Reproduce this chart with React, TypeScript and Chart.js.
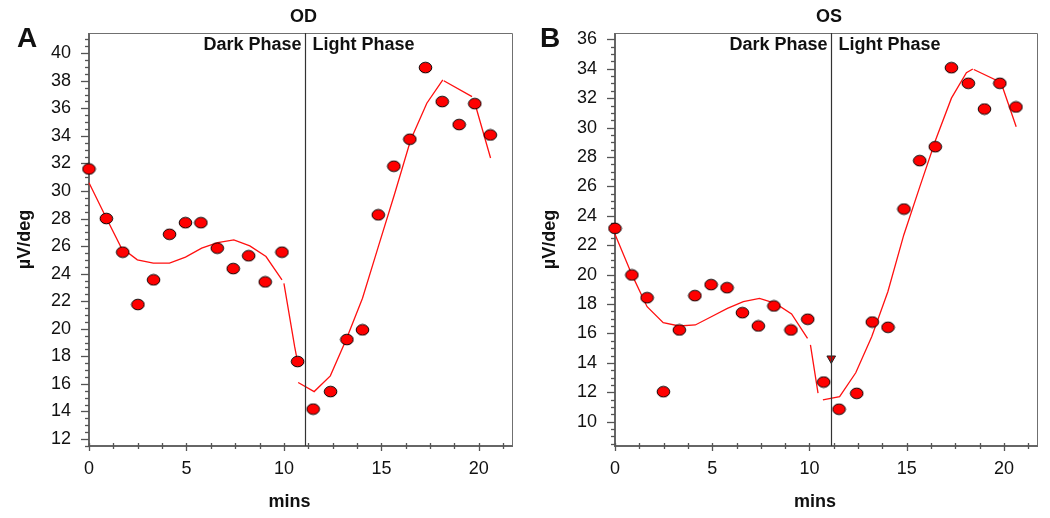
import React, { useEffect, useRef } from 'react';
import { Chart, registerables } from 'chart.js';

Chart.register(...registerables);

const FONT = '"Liberation Sans", Arial, Helvetica, sans-serif';

// ---------- Panel A (OD) ----------
const odTimes = [0, 0.89, 1.73, 2.51, 3.31, 4.13, 4.95, 5.74, 6.58, 7.4, 8.19, 9.04, 9.9, 10.7, 11.5, 12.39, 13.23, 14.03, 14.84, 15.64, 16.46, 17.26, 18.12, 18.99, 19.79, 20.59];
const odValues = [31.6, 28.0, 25.56, 21.76, 23.55, 26.86, 27.7, 27.7, 25.85, 24.37, 25.3, 23.4, 25.56, 17.62, 14.17, 15.44, 19.22, 19.92, 28.27, 31.8, 33.76, 38.96, 36.49, 34.82, 36.34, 34.07];
const odFitTimes = [0, 0.83, 1.65, 2.48, 3.3, 4.13, 4.95, 5.78, 6.6, 7.43, 8.25, 9.08, 9.9, 9.95, 10.0, 10.55, 10.7, 10.71, 10.73, 11.55, 12.38, 13.2, 14.03, 14.85, 15.68, 16.5, 17.33, 18.15, 18.17, 18.2, 19.65, 19.75, 19.85, 20.6];
const odFitValues = [30.6, 28.2, 25.9, 25.0, 24.76, 24.76, 25.2, 25.85, 26.26, 26.45, 26.02, 25.24, 23.55, null, 23.3, 18.7, 17.6, null, 16.1, 15.44, 16.58, 19.24, 22.22, 26.0, 29.8, 33.7, 36.37, 38.06, null, 38.0, 36.85, null, 36.1, 32.4];
const odYTicks = [12, 14, 16, 18, 20, 22, 24, 26, 28, 30, 32, 34, 36, 38, 40];

// ---------- Panel B (OS) ----------
const osTimes = [0, 0.87, 1.65, 2.49, 3.31, 4.11, 4.94, 5.76, 6.55, 7.37, 8.17, 9.05, 9.91, 10.73, 11.52, 12.43, 13.23, 14.04, 14.86, 15.67, 16.47, 17.3, 18.17, 19.0, 19.79, 20.62];
const osValues = [23.15, 19.98, 18.43, 12.04, 16.24, 18.57, 19.32, 19.11, 17.41, 16.51, 17.87, 16.24, 16.97, 12.7, 10.85, 11.93, 16.78, 16.42, 24.46, 27.75, 28.7, 34.07, 33.01, 31.26, 33.01, 31.4];
const osFitTimes = [0, 0.87, 1.65, 2.48, 3.3, 4.13, 4.95, 5.78, 6.6, 7.43, 8.25, 9.08, 9.9, 9.97, 10.05, 10.44, 10.55, 10.69, 11.55, 12.38, 13.2, 14.03, 14.85, 15.68, 16.5, 17.3, 18.07, 18.4, 18.42, 18.45, 19.87, 19.95, 20.63];
const osFitValues = [22.74, 20.0, 17.82, 16.73, 16.51, 16.58, 17.14, 17.71, 18.16, 18.39, 18.05, 17.33, 15.67, null, 15.22, 11.94, null, 11.48, 11.7, 13.33, 15.78, 18.84, 22.7, 26.0, 29.2, 32.0, 33.73, 33.98, null, 33.95, 33.05, 32.67, 30.06];
const osMarkerTimes = [11.12];
const osMarkerValues = [14.3];
const osYTicks = [10, 12, 14, 16, 18, 20, 22, 24, 26, 28, 30, 32, 34, 36];

const xTicks = [0, 5, 10, 15, 20];
const phaseSwitch = 11.1;

const zip = (xs: number[], ys: (number | null)[]) => xs.map((x, i) => ({ x, y: ys[i] }));

function makeEllipse() {
  const c = document.createElement('canvas');
  c.width = 15;
  c.height = 13;
  const g = c.getContext('2d')!;
  g.beginPath();
  g.ellipse(7.5, 6.5, 6.3, 5.3, 0, 0, Math.PI * 2);
  g.fillStyle = '#ff0000';
  g.fill();
  g.lineWidth = 1;
  g.strokeStyle = '#000';
  g.stroke();
  return c;
}

const panelPlugin = {
  id: 'panel',
  beforeDatasetsDraw(chart: any, _args: any, opts: any) {
    const { ctx, chartArea: a, scales } = chart;
    const x = scales.x;
    const y = scales.y;
    ctx.save();
    // frame top/right
    ctx.strokeStyle = '#707070';
    ctx.lineWidth = 1;
    ctx.beginPath();
    ctx.moveTo(a.left, a.top + 0.5);
    ctx.lineTo(a.right + 0.5, a.top + 0.5);
    ctx.lineTo(a.right + 0.5, a.bottom);
    ctx.stroke();
    // left & bottom axes
    ctx.strokeStyle = '#666';
    ctx.lineWidth = 2;
    ctx.beginPath();
    ctx.moveTo(a.left, a.top);
    ctx.lineTo(a.left, a.bottom);
    ctx.lineTo(a.right + 1, a.bottom);
    ctx.stroke();
    // y ticks (major every 2, minor every 0.5)
    ctx.strokeStyle = '#555';
    ctx.lineWidth = 1.3;
    const yMin = y.min, yMax = y.max;
    for (let k = Math.ceil(yMin * 2); k <= Math.floor(yMax * 2); k++) {
      const v = k / 2;
      const py = Math.round(y.getPixelForValue(v)) + 0.5;
      const len = k % 4 === 0 ? 8 : 4;
      ctx.beginPath();
      ctx.moveTo(a.left - len, py);
      ctx.lineTo(a.left, py);
      ctx.stroke();
    }
    // x ticks (major every 5, minor every 1.25)
    for (let k = 0; k * 1.25 <= x.max; k++) {
      const v = k * 1.25;
      const px = Math.round(x.getPixelForValue(v)) + 0.5;
      const major = k % 4 === 0;
      ctx.beginPath();
      ctx.moveTo(px, a.bottom - 3);
      ctx.lineTo(px, a.bottom + (major ? 5 : 3));
      ctx.stroke();
    }
    ctx.restore();
  },
  afterDatasetsDraw(chart: any, _args: any, opts: any) {
    const { ctx, chartArea: a, scales } = chart;
    const x = scales.x;
    ctx.save();
    const vx = Math.round(x.getPixelForValue(opts.vline)) + 0.5;
    ctx.strokeStyle = '#333';
    ctx.lineWidth = 1.2;
    ctx.beginPath();
    ctx.moveTo(vx, a.top);
    ctx.lineTo(vx, a.bottom);
    ctx.stroke();

    ctx.fillStyle = '#111';
    ctx.textBaseline = 'alphabetic';
    ctx.font = `bold 18px ${FONT}`;
    ctx.textAlign = 'right';
    ctx.fillText(opts.darkLabel, vx - 4, 50);
    ctx.textAlign = 'left';
    ctx.fillText(opts.lightLabel, vx + 7, 50);

    const cx = (a.left + a.right) / 2;
    ctx.textAlign = 'center';
    ctx.fillText(opts.title, cx + 3, 22);
    ctx.fillText(opts.xTitle, cx - 11, 507);

    ctx.textAlign = 'left';
    ctx.font = `bold 28px ${FONT}`;
    ctx.fillText(opts.letter, opts.letterX, 47);
    ctx.restore();
  },
};

type PanelProps = {
  left: number;
  letter: string;
  letterX: number;
  title: string;
  times: number[];
  values: number[];
  fitTimes: number[];
  fitValues: (number | null)[];
  yTicks: number[];
  yMin: number;
  yMax: number;
  yWidth: number;
  markerTimes?: number[];
  markerValues?: number[];
};

function Panel(p: PanelProps) {
  const ref = useRef<HTMLCanvasElement>(null);
  useEffect(() => {
    const ellipse = makeEllipse();
    const datasets: any[] = [
      {
        data: zip(p.times, p.values),
        pointStyle: ellipse,
        pointRadius: 6,
        order: 0,
        clip: false,
      },
      {
        data: zip(p.fitTimes, p.fitValues),
        showLine: true,
        borderColor: '#ff1010',
        borderWidth: 1.3,
        pointRadius: 0,
        spanGaps: false,
        order: 1,
        clip: false,
      },
    ];
    if (p.markerTimes && p.markerValues) {
      datasets.push({
        data: zip(p.markerTimes, p.markerValues),
        pointStyle: 'triangle',
        pointRotation: 180,
        pointRadius: 5,
        backgroundColor: '#dd0000',
        borderColor: '#222',
        borderWidth: 1,
        order: 2,
        clip: false,
      });
    }
    const chart = new Chart(ref.current!, {
      type: 'scatter',
      data: { datasets },
      plugins: [panelPlugin as any],
      options: {
        responsive: false,
        animation: false,
        devicePixelRatio: 1,
        layout: { padding: { left: 0, right: 13, top: 33, bottom: 0 } },
        plugins: {
          legend: { display: false },
          tooltip: { enabled: false },
          panel: {
            vline: phaseSwitch,
            darkLabel: 'Dark Phase',
            lightLabel: 'Light Phase',
            title: p.title,
            xTitle: 'mins',
            letter: p.letter,
            letterX: p.letterX,
          },
        } as any,
        scales: {
          x: {
            type: 'linear',
            min: 0,
            max: 21.7,
            afterBuildTicks: (s: any) => {
              s.ticks = xTicks.map((v) => ({ value: v }));
            },
            afterFit: (s: any) => {
              s.height = 72;
            },
            grid: { display: false, drawTicks: false },
            border: { display: false },
            ticks: {
              font: { family: FONT, size: 18 },
              color: '#111',
              padding: 12,
              maxRotation: 0,
              autoSkip: false,
            },
          },
          y: {
            type: 'linear',
            min: p.yMin,
            max: p.yMax,
            afterBuildTicks: (s: any) => {
              s.ticks = p.yTicks.map((v) => ({ value: v }));
            },
            afterFit: (s: any) => {
              s.width = p.yWidth;
            },
            grid: { display: false, drawTicks: false },
            border: { display: false },
            title: {
              display: true,
              text: 'µV/deg',
              font: { family: FONT, size: 18, weight: 'bold' },
              color: '#111',
              padding: { top: 14, bottom: 0 },
            },
            ticks: {
              font: { family: FONT, size: 18 },
              color: '#111',
              padding: 18,
              autoSkip: false,
            },
          },
        },
      } as any,
    });
    return () => chart.destroy();
  }, []);
  return (
    <canvas
      ref={ref}
      width={525}
      height={518}
      style={{ position: 'absolute', left: p.left, top: 0, width: 525, height: 518 }}
    />
  );
}

export default function App() {
  return (
    <div style={{ position: 'fixed', left: 0, top: 0, width: 1050, height: 518, background: '#fff', overflow: 'hidden' }}>
      <Panel
        left={0}
        letter="A"
        letterX={17}
        title="OD"
        times={odTimes}
        values={odValues}
        fitTimes={odFitTimes}
        fitValues={odFitValues}
        yTicks={odYTicks}
        yMin={11.49}
        yMax={41.47}
        yWidth={89}
      />
      <Panel
        left={525}
        letter="B"
        letterX={15}
        title="OS"
        times={osTimes}
        values={osValues}
        fitTimes={osFitTimes}
        fitValues={osFitValues}
        yTicks={osYTicks}
        yMin={8.35}
        yMax={36.43}
        yWidth={90}
        markerTimes={osMarkerTimes}
        markerValues={osMarkerValues}
      />
    </div>
  );
}
